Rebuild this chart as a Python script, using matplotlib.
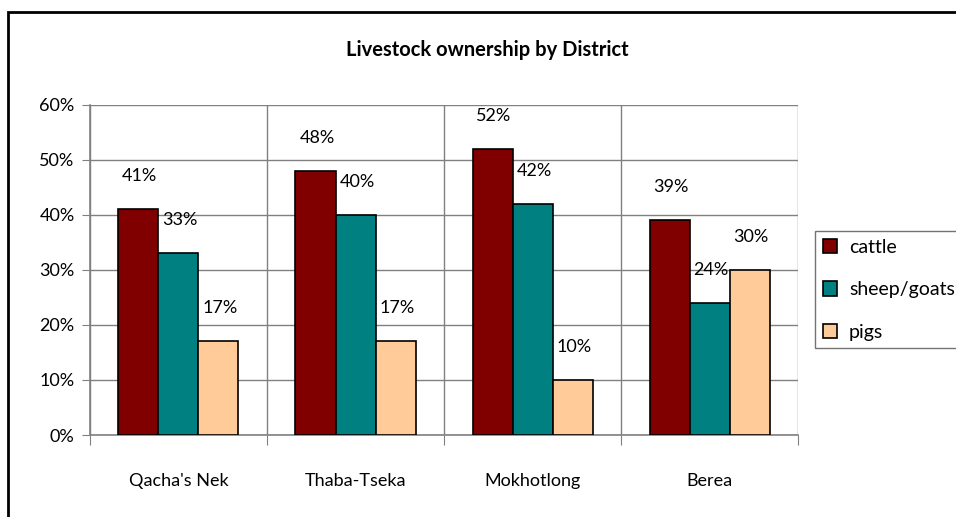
import matplotlib.pyplot as plt
from matplotlib.patches import Rectangle
from matplotlib.ticker import PercentFormatter
import numpy as np

districts = ["Qacha's Nek", "Thaba-Tseka", "Mokhotlong", "Berea"]
cattle = [41, 48, 52, 39]
sheep_goats = [33, 40, 42, 24]
pigs = [17, 17, 10, 30]

series = [("cattle", cattle, "#800000"),
          ("sheep/goats", sheep_goats, "#008080"),
          ("pigs", pigs, "#FFCC99")]

plt.rcParams["font.family"] = ["Lato", "DejaVu Sans"]

fig = plt.figure(figsize=(9.56, 5.17), dpi=100)
ax = fig.add_axes([0.094, 0.1586, 0.741, 0.6384])

x = np.arange(len(districts))
w = 0.226
for i, (name, vals, col) in enumerate(series):
    pos = x + (i - 1) * w
    ax.bar(pos, vals, w, color=col, edgecolor="black", linewidth=1.2,
           label=name, zorder=3)
    for p, v in zip(pos, vals):
        ax.annotate(f"{v}%", (p, v), xytext=(1, 24), textcoords="offset points",
                    ha="center", va="center", fontsize=13)

ax.set_xlim(-0.5, 3.5)
ax.set_ylim(0, 60)
ax.set_yticks(range(0, 61, 10))
ax.yaxis.set_major_formatter(PercentFormatter(decimals=0))
ax.set_xticks(np.arange(-0.5, 4, 1))
ax.set_xticklabels([])
ax.set_xticks(x, minor=True)
ax.set_xticklabels(districts, minor=True)
ax.tick_params(axis="x", which="minor", length=0, pad=27, labelsize=13)
ax.tick_params(axis="x", which="major", length=7, color="#808080")
ax.tick_params(axis="y", length=6, color="#808080", labelsize=13, pad=5)

ax.grid(True, which="major", color="#808080", linewidth=1)
ax.set_axisbelow(True)
for side in ["top", "right"]:
    ax.spines[side].set_visible(False)
for side in ["left", "bottom"]:
    ax.spines[side].set_color("#808080")
    ax.spines[side].set_linewidth(1.2)

fig.text(0.51, 0.903, "Livestock ownership by District", ha="center", va="center",
         fontsize=14.5, fontweight="bold")

leg = ax.legend(loc="upper left", bbox_to_anchor=(1.01, 0.647), frameon=True,
                fancybox=False, edgecolor="#505050", fontsize=14,
                handlelength=0.75, handleheight=0.75, labelspacing=1.3,
                borderpad=0.4, handletextpad=0.6)
leg.get_frame().set_linewidth(1)

fig.patches.append(Rectangle((8 / 956, -0.1), 1.2, 1 - 12 / 517 + 0.1,
                             transform=fig.transFigure, fill=False,
                             edgecolor="black", linewidth=2, clip_on=False))

fig.savefig("out.png", dpi=100)
